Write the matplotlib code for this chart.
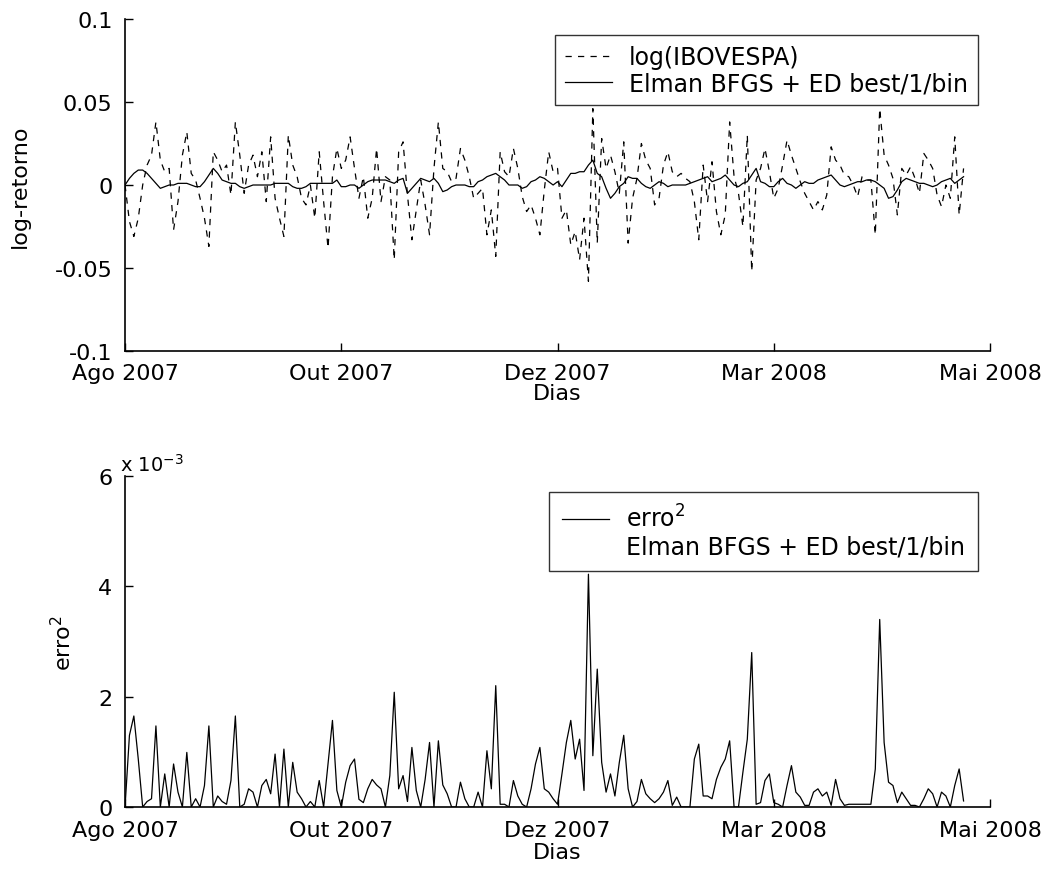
import numpy as np
import matplotlib
matplotlib.use('Agg')
import matplotlib.pyplot as plt
from matplotlib.lines import Line2D
from matplotlib.ticker import FormatStrFormatter

# log-retorno diario do IBOVESPA (tracejado) e previsao da rede (linha cheia)
log_ibov = [
    0.000, -0.022, -0.031, -0.020, 0.000, 0.012, 0.018, 0.038, 0.015, 0.008,
    0.010, -0.027, -0.010, 0.018, 0.032, 0.007, 0.003, -0.008, -0.020, -0.037,
    0.020, 0.015, 0.008, 0.012, -0.006, 0.038, 0.018, -0.005, 0.012, 0.018,
    0.005, 0.020, -0.010, 0.029, -0.008, -0.020, -0.031, 0.030, 0.012, 0.005,
    -0.008, -0.012, 0.000, -0.020, 0.020, -0.010, -0.038, 0.005, 0.022, 0.010,
    0.015, 0.029, 0.010, -0.008, 0.005, -0.020, -0.008, 0.022, -0.010, 0.005,
    0.003, -0.045, 0.020, 0.026, -0.006, -0.033, -0.015, 0.003, -0.012, -0.030,
    0.010, 0.038, 0.010, 0.008, 0.002, 0.004, 0.022, 0.015, 0.005, -0.008,
    -0.005, -0.002, -0.030, -0.015, -0.043, 0.020, 0.008, 0.005, 0.022, 0.010,
    -0.007, -0.016, -0.012, -0.020, -0.030, -0.003, 0.020, 0.008, 0.010, -0.020,
    -0.015, -0.036, -0.028, -0.045, -0.020, -0.058, 0.046, -0.035, 0.028, 0.010,
    0.018, 0.008, -0.005, 0.026, -0.035, -0.008, 0.004, 0.025, 0.015, 0.010,
    -0.012, -0.008, 0.012, 0.020, 0.008, 0.005, 0.007, 0.004, 0.002, -0.010,
    -0.033, 0.012, -0.010, 0.014, -0.016, -0.030, -0.018, 0.038, 0.005, -0.005,
    -0.025, 0.030, -0.052, 0.003, 0.010, 0.022, 0.008, -0.008, -0.002, 0.012,
    0.027, 0.018, 0.010, 0.002, -0.005, -0.010, -0.015, -0.010, -0.015, -0.006,
    0.023, 0.015, 0.012, 0.006, 0.005, 0.000, -0.007, 0.005, 0.003, 0.003,
    -0.030, 0.046, 0.018, 0.012, 0.004, -0.018, 0.010, 0.006, 0.011, 0.004,
    -0.005, 0.019, 0.015, 0.010, -0.006, -0.013, 0.000, -0.008, 0.029, -0.018,
    0.010]

elman = [
    0.000, 0.004, 0.007, 0.009, 0.009, 0.007, 0.004, 0.001, -0.002, -0.001,
    0.000, 0.000, 0.001, 0.001, 0.001, 0.000, -0.001, -0.001, 0.002, 0.006,
    0.010, 0.007, 0.003, 0.002, 0.001, 0.001, -0.001, -0.002, -0.001, 0.000,
    0.000, 0.000, 0.000, 0.000, 0.001, 0.001, 0.001, 0.001, -0.001, -0.002,
    -0.002, -0.001, 0.001, 0.001, 0.001, 0.001, 0.001, 0.001, 0.003, -0.001,
    -0.001, 0.000, 0.000, -0.002, 0.000, 0.002, 0.003, 0.003, 0.003, 0.003,
    0.002, 0.001, 0.003, 0.004, -0.005, -0.002, 0.001, 0.004, 0.003, 0.002,
    0.004, 0.001, -0.004, -0.003, -0.001, 0.000, 0.000, 0.000, -0.001, -0.001,
    0.002, 0.003, 0.005, 0.006, 0.007, 0.005, 0.003, 0.000, 0.000, 0.000,
    -0.002, -0.001, 0.002, 0.003, 0.005, 0.004, 0.002, 0.000, 0.002, -0.001,
    0.003, 0.007, 0.007, 0.008, 0.008, 0.012, 0.015, 0.007, 0.005, -0.002,
    -0.008, -0.005, -0.001, 0.001, 0.005, 0.004, 0.004, 0.001, -0.001, -0.002,
    0.000, 0.002, 0.001, -0.001, 0.000, 0.000, 0.000, 0.000, 0.001, 0.002,
    0.003, 0.004, 0.005, 0.002, 0.003, 0.004, 0.006, 0.003, 0.000, -0.001,
    0.001, 0.002, 0.006, 0.010, 0.002, 0.001, -0.001, -0.001, 0.002, 0.004,
    0.001, 0.000, -0.002, 0.000, 0.002, 0.001, 0.001, 0.003, 0.004, 0.005,
    0.006, 0.003, 0.000, -0.001, 0.000, 0.001, 0.002, 0.002, 0.003, 0.003,
    0.002, 0.000, -0.002, -0.008, -0.007, -0.003, 0.002, 0.004, 0.003, 0.002,
    0.001, 0.001, 0.000, -0.001, 0.000, 0.002, 0.003, 0.004, 0.001, 0.003,
    0.005]

# erro quadratico, em unidades de 1e-3
erro2 = [
    0.00, 1.30, 1.65, 0.87, 0.00, 0.10, 0.15, 1.47, 0.00, 0.60,
    0.00, 0.78, 0.27, 0.00, 0.99, 0.00, 0.15, 0.00, 0.39, 1.47,
    0.00, 0.20, 0.10, 0.05, 0.48, 1.65, 0.00, 0.05, 0.33, 0.27,
    0.00, 0.39, 0.50, 0.24, 0.96, 0.00, 1.05, 0.00, 0.81, 0.27,
    0.15, 0.00, 0.10, 0.00, 0.48, 0.00, 0.78, 1.57, 0.30, 0.00,
    0.45, 0.75, 0.87, 0.14, 0.08, 0.33, 0.50, 0.40, 0.33, 0.00,
    0.57, 2.08, 0.33, 0.57, 0.10, 1.08, 0.30, 0.00, 0.50, 1.17,
    0.00, 1.20, 0.40, 0.24, 0.00, 0.00, 0.45, 0.15, 0.00, 0.00,
    0.27, 0.00, 1.02, 0.33, 2.20, 0.05, 0.05, 0.00, 0.48, 0.20,
    0.05, 0.00, 0.33, 0.78, 1.08, 0.33, 0.27, 0.15, 0.05, 0.60,
    1.17, 1.57, 0.87, 1.23, 0.30, 4.22, 0.93, 2.50, 0.81, 0.27,
    0.60, 0.20, 0.81, 1.30, 0.33, 0.00, 0.10, 0.50, 0.24, 0.15,
    0.08, 0.15, 0.27, 0.48, 0.03, 0.18, 0.00, 0.00, 0.00, 0.87,
    1.14, 0.20, 0.20, 0.15, 0.50, 0.72, 0.87, 1.20, 0.00, 0.00,
    0.63, 1.23, 2.80, 0.05, 0.08, 0.48, 0.60, 0.08, 0.05, 0.00,
    0.39, 0.75, 0.27, 0.18, 0.03, 0.03, 0.27, 0.33, 0.20, 0.27,
    0.03, 0.50, 0.15, 0.03, 0.05, 0.05, 0.05, 0.05, 0.05, 0.05,
    0.69, 3.40, 1.17, 0.45, 0.39, 0.08, 0.27, 0.15, 0.03, 0.03,
    0.00, 0.15, 0.33, 0.24, 0.00, 0.27, 0.20, 0.00, 0.39, 0.69,
    0.11]

tick_days = [0, 49, 98, 147, 196]
tick_labels = ['Ago 2007', 'Out 2007', 'Dez 2007', 'Mar 2008', 'Mai 2008']

plt.rcParams['font.family'] = 'DejaVu Sans'
plt.rcParams['font.size'] = 16
plt.rcParams['lines.scale_dashes'] = False

fig = plt.figure(figsize=(10.48, 8.78), dpi=100)
ax1 = fig.add_axes([0.1193, 0.5991, 0.8254, 0.3781])
ax2 = fig.add_axes([0.1193, 0.0797, 0.8254, 0.3770])

def estilo(ax, pad_x, lab_pad):
    ax.spines['top'].set_visible(False)
    ax.spines['right'].set_visible(False)
    for s in ('left', 'bottom'):
        ax.spines[s].set_linewidth(1.2)
    ax.tick_params(direction='in', length=6, width=1.0)
    ax.tick_params(axis='y', pad=9)
    ax.tick_params(axis='x', pad=pad_x)
    ax.set_xlim(0, 196)
    ax.set_xticks(tick_days)
    ax.set_xticklabels(tick_labels)
    ax.set_xlabel('Dias', labelpad=lab_pad)

leg_kw = dict(loc='upper right', bbox_to_anchor=(0.986, 0.952),
              frameon=True, fancybox=False, edgecolor='black', fontsize=17,
              labelspacing=0.1, handlelength=2.0,
              handletextpad=0.72, borderaxespad=0)

# grafico de cima
ax1.plot(np.arange(len(log_ibov)), log_ibov, color='black', lw=0.9,
         linestyle=(0, (4.5, 4.5)), label='log(IBOVESPA)')
ax1.plot(np.arange(len(elman)), elman, color='black', lw=0.9,
         label='Elman BFGS + ED best/1/bin')
estilo(ax1, 9, 0)
ax1.set_ylim(-0.1, 0.1)
ax1.set_yticks([-0.1, -0.05, 0, 0.05, 0.1])
ax1.yaxis.set_major_formatter(FormatStrFormatter('%g'))
ax1.set_ylabel('log-retorno')
ax1.yaxis.set_label_coords(-0.11, 0.5)
leg1 = ax1.legend(borderpad=0.42, **leg_kw)
leg1.get_frame().set_linewidth(1.0)

# grafico de baixo
ax2.plot(np.arange(len(erro2)), erro2, color='black', lw=0.9)
estilo(ax2, 9, 2)
ax2.set_ylim(0, 6)
ax2.set_yticks([0, 2, 4, 6])
ax2.set_ylabel('erro$^2$')
ax2.yaxis.set_label_coords(-0.058, 0.5)
ax2.text(-0.006, 1.005, 'x 10$^{-3}$', transform=ax2.transAxes,
         ha='left', va='bottom', fontsize=14)
handles = [Line2D([], [], color='black', lw=0.9),
           Line2D([], [], color='none')]
leg2 = ax2.legend(handles, ['erro$^2$', 'Elman BFGS + ED best/1/bin'],
                  borderpad=0.55, **leg_kw)
leg2.get_frame().set_linewidth(1.0)

fig.savefig('out.png', dpi=100)
